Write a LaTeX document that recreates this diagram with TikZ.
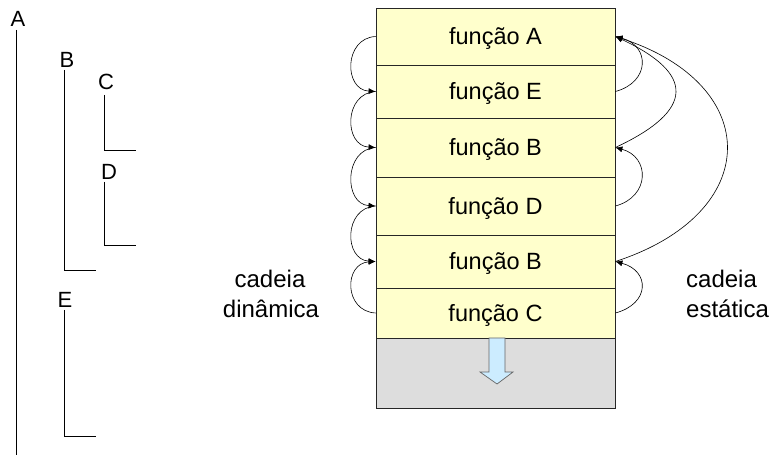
\documentclass[tikz,border=0pt]{standalone}
\usepackage{fontspec}
\setmainfont{Liberation Sans}
\usetikzlibrary{arrows.meta}
\definecolor{rowyellow}{RGB}{255,255,204}
\definecolor{stackgray}{RGB}{221,221,221}
\definecolor{arrowblue}{RGB}{204,236,255}
\begin{document}
\begin{tikzpicture}[x=1pt,y=1pt,
  frame/.style={draw=black!85, fill=rowyellow, line width=0.8pt, minimum width=239pt, inner sep=0pt,
     text height=17pt, text depth=0pt, font=\fontsize{23.5}{28}\selectfont},
  lbl/.style={font=\fontsize{22}{26}\selectfont, inner sep=0pt, anchor=base},
  caption/.style={font=\fontsize{24}{29}\selectfont, inner sep=0pt},
  tree/.style={line width=0.9pt, black},
  link/.style={line width=0.6pt, black, -{Latex[length=7pt,width=6pt]}}]
\useasboundingbox (0,0) rectangle (773,460);
% tree of nesting
\node[lbl] (lA) at (18,433) {A};
\node[lbl] (lB) at (67,392) {B};
\node[lbl] (lC) at (106,370) {C};
\node[lbl] (lD) at (109,280) {D};
\node[lbl] (lE) at (65,152) {E};
\coordinate (tA1) at (16,430); \coordinate (tA2) at (16,5);
\coordinate (tB1) at (64,390); \coordinate (tB2) at (64,190); \coordinate (tB3) at (96,190);
\coordinate (tC1) at (104,365); \coordinate (tC2) at (104,310); \coordinate (tC3) at (136,310);
\coordinate (tD1) at (104,278); \coordinate (tD2) at (104,215); \coordinate (tD3) at (136,215);
\coordinate (tE1) at (64,150); \coordinate (tE2) at (64,24); \coordinate (tE3) at (96,24);
\draw[tree] (tA1) -- (tA2);
\draw[tree] (tB1) -- (tB2) -- (tB3);
\draw[tree] (tC1) -- (tC2) -- (tC3);
\draw[tree] (tD1) -- (tD2) -- (tD3);
\draw[tree] (tE1) -- (tE2) -- (tE3);
% stack
\node[frame, fill=stackgray, minimum height=70pt] (g) at (495.5,87) {};
\node[frame, minimum height=57pt] (fA) at (495.5,423.5) {função A};
\node[frame, minimum height=53pt] (fE) at (495.5,368.5) {função E};
\node[frame, minimum height=59pt] (fB1) at (495.5,312.5) {função B};
\node[frame, minimum height=58pt] (fD) at (495.5,254) {função D};
\node[frame, minimum height=53pt] (fB2) at (495.5,198.5) {função B};
\node[frame, minimum height=50pt] (fC) at (495.5,147) {função C};
% growth arrow
\draw[draw=black!60, fill=arrowblue, line width=0.7pt]
  (489,122) -- (489,88) -- (480,88) -- (497,76) -- (513,88) -- (505,88) -- (505,122) -- cycle;
% dynamic chain
\draw[link] (fA.west) .. controls +(183:32) and +(177:32) .. (fE.west);
\draw[link] (fE.west) .. controls +(183:32) and +(177:32) .. (fB1.west);
\draw[link] (fB1.west) .. controls +(183:32) and +(177:32) .. (fD.west);
\draw[link] (fD.west) .. controls +(183:32) and +(177:32) .. (fB2.west);
\draw[link] (fC.west) .. controls +(177:32) and +(183:32) .. (fB2.west);
% static chain
\draw[link] (fE.east) .. controls +(15:36) and +(-15:36) .. (fA.east);
\draw[link] (fB1.east) .. controls +(25:88) and +(-25:88) .. (fA.east);
\draw[link] (fB2.east) .. controls +(18:156) and +(-18:156) .. (fA.east);
\draw[link] (fD.east) .. controls +(15:36) and +(-15:36) .. (fB1.east);
\draw[link] (fC.east) .. controls +(15:36) and +(-15:36) .. (fB2.east);
% captions
\node[caption, anchor=base] (cd1) at (270,172) {cadeia};
\node[caption, anchor=base] (cd2) at (271,142) {dinâmica};
\node[caption, anchor=base west] (ce1) at (686,172) {cadeia};
\node[caption, anchor=base west] (ce2) at (686,142) {estática};
\end{tikzpicture}
\end{document}
